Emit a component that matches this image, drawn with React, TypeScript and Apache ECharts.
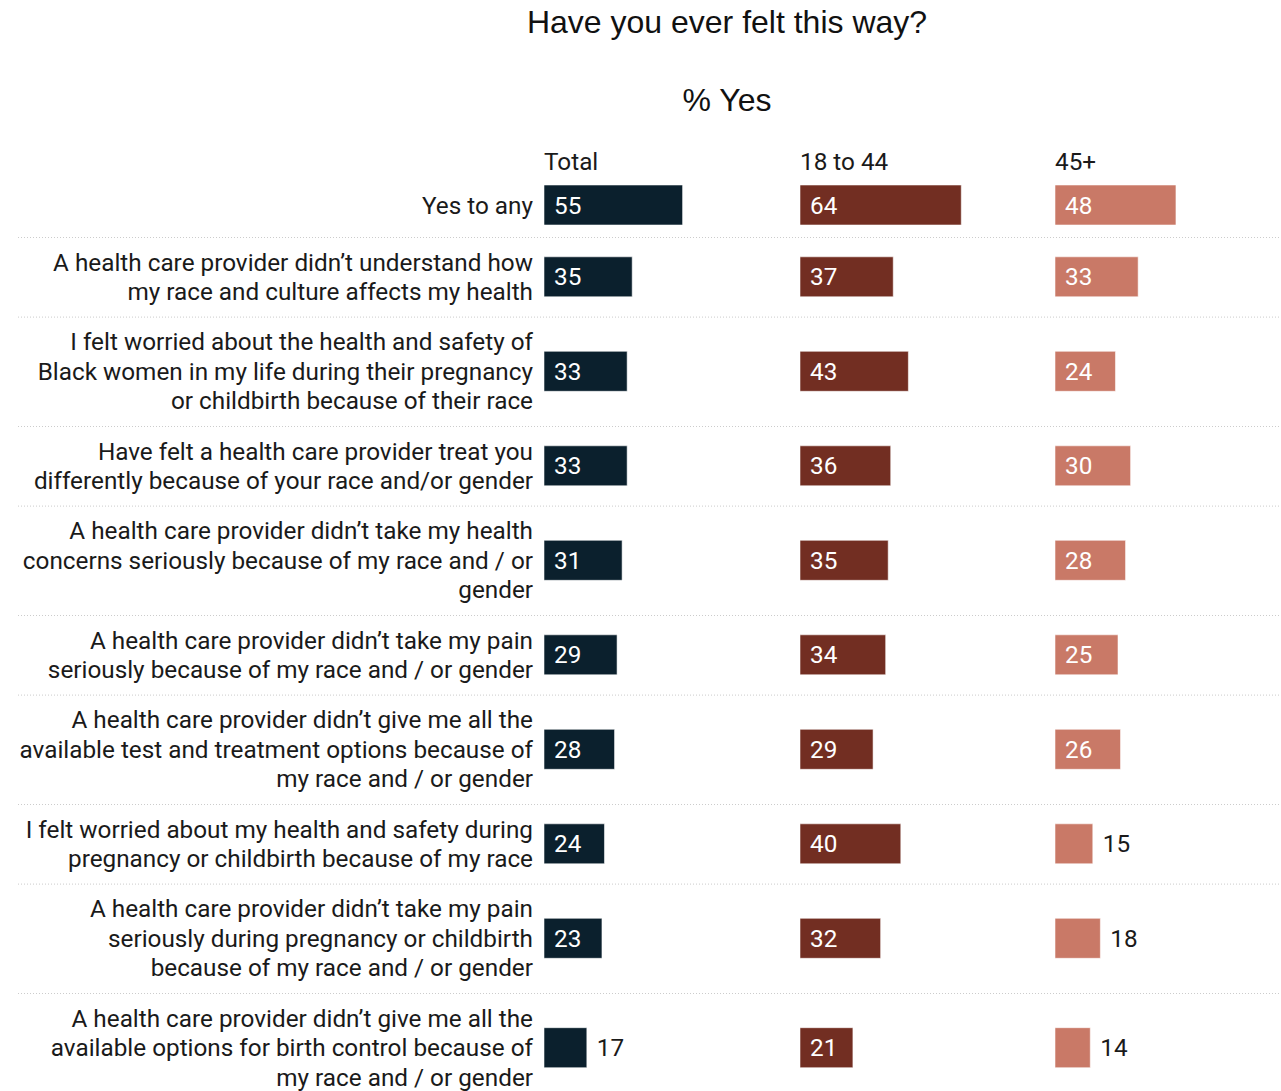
import React, { useEffect, useRef } from "react";
import * as echarts from "echarts";

const title = "Have you ever felt this way?";
const subtitle = "% Yes";
const columnNames = ["Total", "18 to 44", "45+"];
const categories = [
  "Yes to any",
  "A health care provider didn’t understand how\nmy race and culture affects my health",
  "I felt worried about the health and safety of\nBlack women in my life during their pregnancy\nor childbirth because of their race",
  "Have felt a health care provider treat you\ndifferently because of your race and/or gender",
  "A health care provider didn’t take my health\nconcerns seriously because of my race and / or\ngender",
  "A health care provider didn’t take my pain\nseriously because of my race and / or gender",
  "A health care provider didn’t give me all the\navailable test and treatment options because of\nmy race and / or gender",
  "I felt worried about my health and safety during\npregnancy or childbirth because of my race",
  "A health care provider didn’t take my pain\nseriously during pregnancy or childbirth\nbecause of my race and / or gender",
  "A health care provider didn’t give me all the\navailable options for birth control because of\nmy race and / or gender",
];
const total = [55, 35, 33, 33, 31, 29, 28, 24, 23, 17];
const age18to44 = [64, 37, 43, 36, 35, 34, 29, 40, 32, 21];
const age45plus = [48, 33, 24, 30, 28, 25, 26, 15, 18, 14];

const colors = ["#0b202d", "#722e22", "#c97967"];
const FONT = "Roboto";
const LABEL_SIZE = 24.3;
const LINE_H = 29.6;
const BAR_H = 40;
const GRID_TOP = 173;
const CHART_H = 1091;
const COL_LEFT = [544, 800, 1055];
const X_MAX = 80;
const PX_PER_UNIT = 2.52;
const COL_WIDTH = X_MAX * PX_PER_UNIT;
const OUTSIDE_BELOW = 20;

// row layout derived from number of label lines
const rowHeights = categories.map((c) => {
  const n = c.split("\n").length;
  return n === 1 ? 64 : 20 + 29.8 * n;
});
const rowStarts: number[] = [];
let acc = 0;
rowHeights.forEach((h) => {
  rowStarts.push(acc);
  acc += h;
});
const visibleHeight = CHART_H - GRID_TOP;

const allSeries = [total, age18to44, age45plus];

export default function App() {
  const ref = useRef<HTMLDivElement>(null);
  useEffect(() => {
    if (!ref.current) return;
    const chart = echarts.init(ref.current, null, { renderer: "svg" });

    const grids = COL_LEFT.map((left) => ({
      left,
      top: GRID_TOP,
      width: COL_WIDTH,
      height: visibleHeight,
      containLabel: false,
    }));
    const xAxes = COL_LEFT.map((_, i) => ({
      type: "value",
      gridIndex: i,
      min: 0,
      max: X_MAX,
      show: false,
    }));
    const yAxes = COL_LEFT.map((_, i) => ({
      type: "value",
      gridIndex: i,
      min: 0,
      max: visibleHeight,
      inverse: true,
      show: false,
    }));

    const series = allSeries.map((vals, si) => ({
      type: "custom",
      name: columnNames[si],
      xAxisIndex: si,
      yAxisIndex: si,
      clip: false,
      data: vals.map((v, i) => [
        v,
        rowStarts[i] + rowHeights[i] / 2,
        i,
        rowStarts[i] + rowHeights[i],
      ]),
      renderItem: (params: any, api: any) => {
        const v = api.value(0);
        const yc = api.value(1);
        const idx = api.value(2);
        const yEnd = api.value(3);
        const p0 = api.coord([0, yc]);
        const p1 = api.coord([v, yc]);
        const h = api.size([0, BAR_H])[1];
        const outside = v < OUTSIDE_BELOW;
        const children: any[] = [
          {
            type: "rect",
            shape: { x: p0[0], y: p0[1] - h / 2, width: p1[0] - p0[0], height: h },
            style: { fill: colors[si], stroke: "rgba(255,255,255,0.55)", lineWidth: 1 },
          },
          {
            type: "text",
            style: {
              text: String(v),
              x: outside ? p1[0] + 10 : p0[0] + 10,
              y: p0[1],
              fill: outside ? "#1a1a1a" : "#ffffff",
              fontSize: LABEL_SIZE,
              fontFamily: FONT,
              align: "left",
              verticalAlign: "middle",
            },
          },
        ];
        if (si === 0) {
          children.push({
            type: "text",
            style: {
              text: categories[idx],
              x: p0[0] - 11,
              y: p0[1],
              fill: "#1a1a1a",
              fontSize: LABEL_SIZE,
              fontFamily: FONT,
              lineHeight: LINE_H,
              align: "right",
              verticalAlign: "middle",
            },
          });
          const pe = api.coord([0, yEnd]);
          children.push({
            type: "line",
            shape: { x1: 18, y1: pe[1] + 0.5, x2: 1281, y2: pe[1] + 0.5 },
            style: { stroke: "#cccccc", lineWidth: 1, lineDash: [1, 2] },
          });
        }
        return { type: "group", children };
      },
    }));

    const graphic: any[] = [
      {
        type: "text",
        x: 727,
        y: 22,
        style: {
          text: title,
          fontSize: 32,
          fontFamily: "Liberation Sans",
          fill: "#111111",
          align: "center",
          verticalAlign: "middle",
        },
      },
      {
        type: "text",
        x: 727,
        y: 100,
        style: {
          text: subtitle,
          fontSize: 32,
          fontFamily: "Liberation Sans",
          fill: "#111111",
          align: "center",
          verticalAlign: "middle",
        },
      },
      ...columnNames.map((n, i) => ({
        type: "text",
        x: COL_LEFT[i],
        y: 161,
        style: {
          text: n,
          fontSize: LABEL_SIZE,
          fontFamily: FONT,
          fill: "#1a1a1a",
          align: "left",
          verticalAlign: "middle",
        },
      })),
    ];

    chart.setOption({
      animation: false,
      backgroundColor: "#ffffff",
      grid: grids,
      xAxis: xAxes,
      yAxis: yAxes,
      series,
      graphic,
    });
    return () => chart.dispose();
  }, []);
  return (
    <div
      ref={ref}
      style={{ position: "absolute", left: 0, top: 0, width: 1281, height: 1091 }}
    />
  );
}
